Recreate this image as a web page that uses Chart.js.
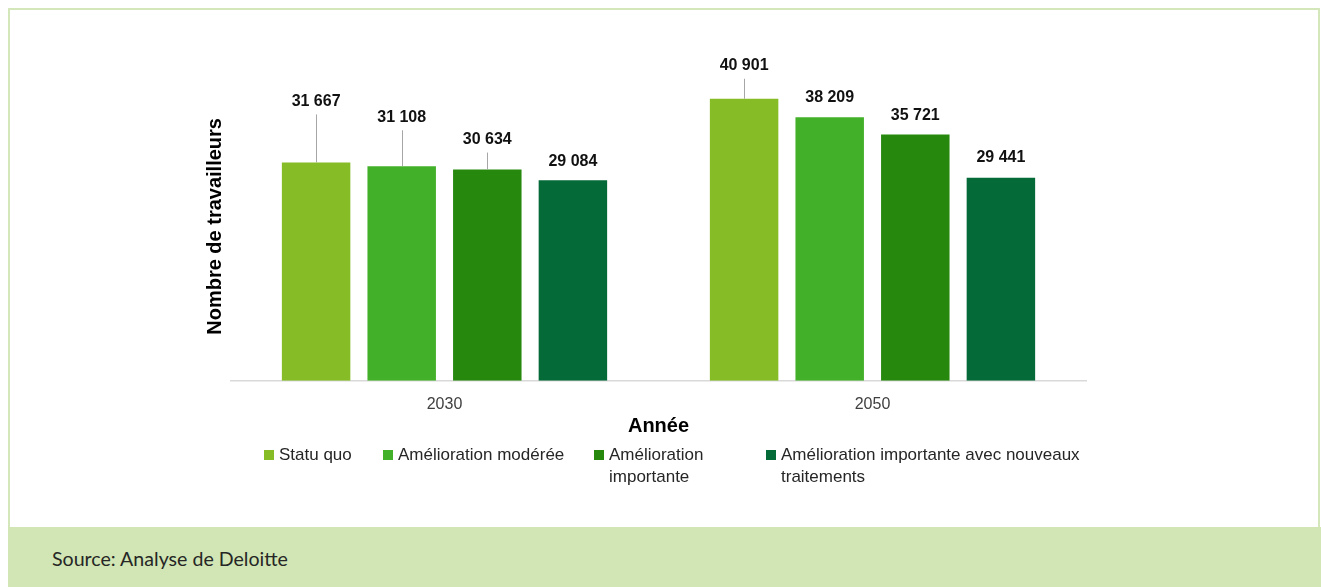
<!DOCTYPE html>
<html lang="fr">
<head>
<meta charset="utf-8">
<script src="https://cdn.jsdelivr.net/npm/chart.js@4.4.1/dist/chart.umd.min.js"></script>
<style>
  html, body { margin: 0; padding: 0; background: #fff; }
  body { width: 1321px; height: 587px; position: relative; overflow: hidden;
         font-family: "Liberation Sans", Arial, sans-serif; }
  #frame { position: absolute; left: 8px; top: 8px; width: 1312px; height: 519px;
           border: 2px solid #d3e7bb; border-bottom: none; box-sizing: border-box; }
  #wrap { position: absolute; left: 10px; top: 10px; width: 1308px; height: 517px; }
  #legend { position: absolute; left: 264px; top: 444px; display: flex; align-items: flex-start; }
  .item { display: flex; align-items: flex-start; font-size: 17px; line-height: 22px; color: #262626; }
  .item i { display: inline-block; width: 10px; height: 10px; margin: 6px 5px 0 0; flex: none; }
  #footer { position: absolute; left: 8px; top: 527px; width: 1313px; height: 60px; background: #d1e6b4; }
  #footer span { position: absolute; left: 44px; top: 18px; font-family: Lato, "Open Sans", sans-serif;
                 font-size: 19.6px; line-height: 28px; color: #262626; }
</style>
</head>
<body>
<div id="frame"></div>
<div id="wrap"><canvas id="chart"></canvas></div>
<div id="legend"></div>
<div id="footer"><span>Source: Analyse de Deloitte</span></div>

<script>
// ---- données ----
const years = ['2030', '2050'];
const seriesNames = ['Statu quo', 'Amélioration modérée', 'Amélioration importante',
  'Amélioration importante avec nouveaux traitements'];
const statuQuo = [31667, 40901];
const ameliorationModeree = [31108, 38209];
const ameliorationImportante = [30634, 35721];
const avecNouveauxTraitements = [29084, 29441];

const colors = ['#86bc25', '#43b02a', '#26890d', '#046a38'];

// hauteur des étiquettes au-dessus des barres (px), par série puis par année
const LABEL_RAISE = [[61, 33], [49, 20], [30, 19], [19, 20]];
// largeur des éléments de légende (retour à la ligne comme dans l'original)
const LEGEND_WIDTHS = [119, 211, 172, 330];
const LEGEND_TEXT_MAX = [null, null, 105, 312];

const fmt = v => String(v).replace(/\B(?=(\d{3})+(?!\d))/g, ' ');

const valueLabels = {
  id: 'valueLabels',
  afterDatasetsDraw(chart) {
    const ctx = chart.ctx;
    ctx.save();
    chart.data.datasets.forEach((ds, i) => {
      chart.getDatasetMeta(i).data.forEach((bar, j) => {
        const raise = LABEL_RAISE[i][j];
        const ly = bar.y - raise;
        if (raise > 25) {
          ctx.strokeStyle = '#a6a6a6';
          ctx.lineWidth = 1;
          ctx.beginPath();
          ctx.moveTo(Math.round(bar.x) + 0.5, ly + 13);
          ctx.lineTo(Math.round(bar.x) + 0.5, bar.y);
          ctx.stroke();
        }
        ctx.fillStyle = '#111';
        ctx.font = 'bold 16px "Liberation Sans", Arial, sans-serif';
        ctx.textAlign = 'center';
        ctx.textBaseline = 'middle';
        ctx.fillText(fmt(ds.data[j]), bar.x, ly);
      });
    });
    // titre de l'axe vertical
    const a = chart.chartArea;
    ctx.translate(a.left - 15, (a.top + a.bottom) / 2 + 18);
    ctx.rotate(-Math.PI / 2);
    ctx.font = 'bold 20px "Liberation Sans", Arial, sans-serif';
    ctx.fillStyle = '#000';
    ctx.fillText('Nombre de travailleurs', 0, 0);
    ctx.restore();
  }
};

const seriesData = [statuQuo, ameliorationModeree, ameliorationImportante, avecNouveauxTraitements];

new Chart(document.getElementById('chart'), {
  type: 'bar',
  data: {
    labels: years,
    datasets: seriesData.map((d, i) => ({
      label: seriesNames[i],
      data: d,
      backgroundColor: colors[i],
      categoryPercentage: 0.8,
      barPercentage: 0.8
    }))
  },
  options: {
    responsive: true,
    maintainAspectRatio: false,
    animation: false,
    layout: { padding: { left: 220.5, right: 231.5, top: 26, bottom: 89 } },
    plugins: { legend: { display: false }, tooltip: { enabled: false } },
    scales: {
      y: { display: false, min: 0, max: 50000 },
      x: {
        grid: { display: false, drawTicks: false },
        border: { color: '#d9d9d9', width: 1.5 },
        ticks: { padding: 14, color: '#404040', font: { family: '"Liberation Sans", Arial', size: 16 } },
        title: { display: true, text: 'Année', color: '#000', padding: { top: -14, bottom: 0 },
                 font: { family: '"Liberation Sans", Arial', size: 20, weight: 'bold' } }
      }
    }
  },
  plugins: [valueLabels]
});

// légende HTML (texte sur plusieurs lignes)
const legend = document.getElementById('legend');
seriesNames.forEach((name, i) => {
  const it = document.createElement('div');
  it.className = 'item';
  it.style.width = LEGEND_WIDTHS[i] + 'px';
  const sw = document.createElement('i');
  sw.style.background = colors[i];
  const tx = document.createElement('span');
  tx.textContent = name;
  if (LEGEND_TEXT_MAX[i]) tx.style.maxWidth = LEGEND_TEXT_MAX[i] + 'px';
  it.appendChild(sw);
  it.appendChild(tx);
  legend.appendChild(it);
});
</script>
</body>
</html>
